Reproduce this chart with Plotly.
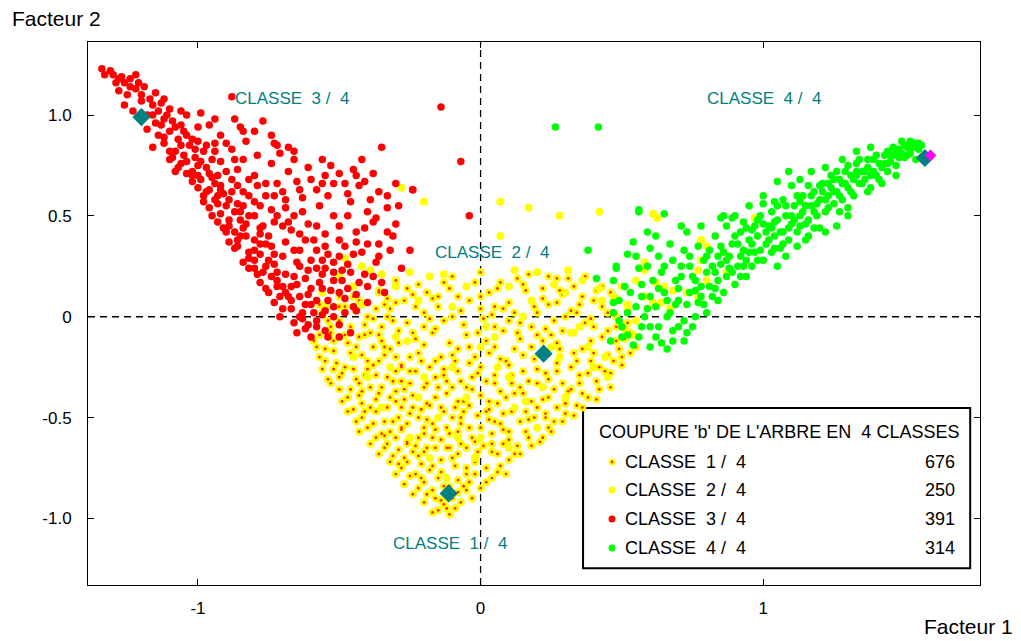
import plotly.graph_objects as go

# ---------------- data ----------------
class3_pts = [  # CLASSE 3 / 4 (red)
    (-1.34,1.23),(-1.31,1.22),(-1.27,1.19),(-1.24,1.18),(-1.22,1.2),(-1.26,1.16),
    (-1.28,1.12),(-1.22,1.13),(-1.19,1.14),(-1.15,1.11),(-1.12,1.08),(-0.88,1.09),
    (-1.26,1.05),(-1.23,1.02),(-1.16,1.05),(-1.1,1.03),(-1.06,1.02),(-1.04,1.0),(-0.99,1.01),(-0.77,0.97),
    (-1.18,0.93),(-1.13,0.95),(-1.09,0.97),(-1.05,0.92),(-1.0,0.94),(-0.96,0.95),(-0.92,0.9),(-0.85,0.94),(-0.8,0.92),
    (-1.16,0.84),(-1.12,0.86),(-1.08,0.82),(-1.03,0.85),(-0.98,0.82),(-0.94,0.86),(-0.88,0.83),(-0.83,0.87),(-0.79,0.8),(-0.72,0.85),(-0.66,0.82),(-0.35,0.84),
    (-1.1,0.78),(-1.07,0.74),(-1.04,0.77),(-1.02,0.72),(-1.0,0.75),(-0.96,0.71),(-0.92,0.77),(-0.86,0.73),(-0.8,0.7),(-0.74,0.76),(-0.68,0.72),(-0.61,0.74),(-0.55,0.7),(-0.45,0.73),(-0.38,0.71),(-0.07,0.77),
    (-1.02,0.67),(-1.0,0.64),(-0.99,0.68),(-0.97,0.62),(-0.94,0.66),(-0.91,0.61),(-0.86,0.65),(-0.82,0.6),(-0.76,0.66),(-0.7,0.62),(-0.65,0.67),(-0.58,0.63),(-0.52,0.66),(-0.47,0.61),(-0.43,0.65),(-0.36,0.62),(-0.3,0.66),(-0.24,0.63),
    (-0.98,0.57),(-0.96,0.54),(-0.94,0.58),(-0.92,0.51),(-0.9,0.55),(-0.85,0.52),(-0.8,0.57),(-0.74,0.53),(-0.69,0.58),(-0.63,0.52),(-0.57,0.55),(-0.52,0.5),(-0.46,0.57),(-0.4,0.52),(-0.33,0.54),(-0.04,0.5),
    (-0.93,0.47),(-0.91,0.44),(-0.89,0.48),(-0.87,0.42),(-0.83,0.46),(-0.78,0.41),(-0.73,0.47),(-0.67,0.43),(-0.61,0.46),(-0.55,0.41),(-0.5,0.45),(-0.44,0.42),(-0.38,0.47),(-0.31,0.4),
    (-0.89,0.37),(-0.87,0.34),(-0.86,0.38),(-0.82,0.32),(-0.78,0.36),(-0.73,0.31),(-0.69,0.37),(-0.64,0.33),(-0.59,0.38),(-0.54,0.31),(-0.48,0.35),(-0.42,0.32),(-0.36,0.36),(-0.25,0.33),
    (-0.84,0.27),(-0.82,0.24),(-0.8,0.28),(-0.77,0.22),(-0.73,0.26),(-0.69,0.21),(-0.65,0.27),(-0.61,0.23),(-0.56,0.28),(-0.52,0.22),(-0.47,0.26),(-0.41,0.21),(-0.37,0.27),(-0.28,0.24),
    (-0.78,0.17),(-0.76,0.14),(-0.72,0.18),(-0.69,0.12),(-0.65,0.16),(-0.61,0.11),(-0.57,0.17),(-0.53,0.13),(-0.49,0.18),(-0.44,0.11),(-0.4,0.15),(-0.34,0.12),
    (-0.73,0.07),(-0.7,0.04),(-0.67,0.08),(-0.63,0.02),(-0.6,0.06),(-0.56,0.01),(-0.52,0.05),(-0.48,0.09),(-0.44,0.03),(-0.4,0.07),
    (-0.66,-0.03),(-0.62,-0.06),(-0.58,-0.02),(-0.55,-0.07),(-0.5,-0.04),(-0.46,-0.08),(-0.6,-0.1),
    (-0.14,1.04),(-0.24,0.63),
    (-1.25,1.1),(-1.18,1.0),(-1.14,0.9),(-1.1,0.82),(-1.06,0.76),(-1.02,0.7),(-0.98,0.6),(-0.93,0.56),(-0.89,0.45),
    (-0.85,0.4),(-0.8,0.33),(-0.76,0.25),(-0.72,0.15),(-0.68,0.1),(-0.64,0.0),(-1.02,0.88),(-0.95,0.78),(-0.88,0.68),
    (-0.8,0.5),(-0.75,0.4),(-0.7,0.3),(-0.62,0.19),(-0.58,0.08),
    (-1.3,1.2),(-1.29,1.16),(-1.21,1.16),(-1.17,1.08),(-1.2,1.07),(-1.14,1.02),(-1.12,0.98),(-1.15,0.96),(-1.1,0.92),
    (-1.07,0.88),(-1.12,0.89),(-1.05,0.8),(-1.09,0.79),(-1.01,0.79),(-1.0,0.7),(-1.04,0.71),(-0.95,0.69),(-0.96,0.63),
    (-0.93,0.6),(-0.89,0.58),(-0.95,0.5),(-0.87,0.52),(-0.9,0.42),(-0.84,0.44),(-0.86,0.35),(-0.8,0.38),(-0.82,0.29),
    (-0.78,0.31),(-0.79,0.21),(-0.74,0.2),(-0.75,0.12),(-0.7,0.15),(-0.71,0.0),(-0.67,0.04),(-0.65,-0.08),(-0.63,-0.01),
    (-0.58,-0.05),(-0.56,0.14),(-0.6,0.28),(-0.66,0.33),(-0.7,0.45),(-0.78,0.55),(-0.84,0.62),(-0.9,0.72),(-0.97,0.85),
    (-1.06,0.95),(-1.13,1.06),(-0.94,0.98),(-0.87,0.98),(-0.9,0.86),(-0.74,0.9),(-0.84,0.78),(-0.72,0.66),(-0.63,0.59),
    (-0.62,0.38),(-0.55,0.35),(-0.5,0.3),(-0.46,0.22),(-0.52,0.18),(-0.47,0.14),(-0.45,0.05),(-0.52,0.0),(-0.54,-0.1),
    (-0.5,-0.1),(-0.58,0.24),(-0.64,0.25),(-0.67,0.15),(-0.6,0.14),(-0.56,0.21),(-0.74,0.35),(-0.77,0.45),(-0.66,0.5),
    (-0.58,0.45),(-0.5,0.38),(-0.44,0.37),(-0.41,0.44),(-0.47,0.5),(-0.54,0.6),(-0.6,0.68),(-0.5,0.71),(-0.66,0.78),
    (-0.56,0.78),(-0.42,0.78),(-0.39,0.58),(-0.33,0.6),(-0.3,0.46),(-0.32,0.33),(-0.29,0.55),(-0.44,0.7),(-1.0,0.87),
    (-1.08,0.72),(-0.92,0.65),(-0.84,0.55),(-0.69,0.54),(-0.73,0.6),(-0.79,0.65),(-0.71,0.81),(-0.68,0.84),(-0.73,0.86),
    (-1.33,1.2),(-1.28,1.18),(-1.24,1.14),(-1.2,1.1),(-1.16,1.0),(-1.11,1.0),(-1.08,0.94),(-1.04,0.9),(-1.06,0.85),
    (-1.01,0.83),(-0.99,0.77),(-0.97,0.74),(-0.93,0.7),(-0.92,0.63),(-0.88,0.62),(-0.86,0.56),(-0.85,0.48),(-0.82,0.5),
    (-0.83,0.4),(-0.78,0.44),(-0.76,0.36),(-0.8,0.24),(-0.75,0.28),(-0.72,0.22),(-0.71,0.1),(-0.66,0.2),(-0.64,0.1),
    (-0.62,0.06),(-0.59,0.02),(-0.61,-0.04),(-0.55,0.03),(-0.54,0.08),(-0.5,0.12),(-0.48,0.02),(-0.55,0.24),(-0.52,0.27),
    (-0.49,0.23),(-0.58,0.33),(-0.64,0.41),(-0.68,0.47),(-0.72,0.5),(-0.76,0.6),(-0.82,0.68),(-0.87,0.78),(-0.94,0.82),
    (-0.84,0.92),(-0.64,0.63),(-0.56,0.66),(-0.48,0.66),(-0.53,0.75),(-0.41,0.67),(-0.37,0.49),(-0.33,0.42),(-0.36,0.3),
    (-0.4,0.36),(-0.45,0.31),(-0.43,0.17),(-0.38,0.2),(-0.35,0.17),
]

class1_pts = [  # CLASSE 1 / 4 (yellow, red centre)
    (-0.36,0.12),(-0.3,0.18),(-0.22,0.16),(-0.1,0.2),(0.0,0.22),(0.07,0.17),(0.17,0.21),(0.27,0.19),(0.37,0.2),(0.43,0.15),
    (-0.5,0.1),(-0.43,0.08),(-0.36,0.13),(-0.3,0.07),(-0.24,0.11),(-0.17,0.09),(-0.11,0.14),(-0.04,0.08),(0.03,0.12),(0.1,0.07),(0.16,0.13),(0.22,0.09),(0.29,0.11),(0.35,0.06),(0.41,0.13),(0.48,0.09),
    (-0.56,0.02),(-0.5,-0.02),(-0.44,0.03),(-0.38,-0.01),(-0.32,0.04),(-0.26,-0.03),(-0.2,0.02),(-0.13,-0.02),(-0.07,0.03),(0.01,-0.01),(0.08,0.04),(0.14,-0.03),(0.2,0.02),(0.26,-0.02),(0.32,0.03),(0.39,-0.01),(0.45,0.02),(0.52,-0.03),
    (-0.59,-0.12),(-0.53,-0.08),(-0.47,-0.13),(-0.41,-0.09),(-0.35,-0.12),(-0.29,-0.07),(-0.23,-0.11),(-0.17,-0.08),(-0.11,-0.13),(-0.05,-0.09),(0.02,-0.12),(0.08,-0.07),(0.14,-0.11),(0.2,-0.09),(0.27,-0.13),(0.33,-0.08),(0.39,-0.12),(0.45,-0.07),(0.51,-0.11),(0.55,-0.15),
    (-0.57,-0.2),(-0.51,-0.23),(-0.46,-0.18),(-0.4,-0.22),(-0.34,-0.19),(-0.28,-0.24),(-0.22,-0.18),(-0.16,-0.22),(-0.1,-0.19),(-0.04,-0.23),(0.03,-0.18),(0.09,-0.22),(0.15,-0.19),(0.27,-0.23),(0.33,-0.18),(0.39,-0.22),(0.45,-0.19),(0.5,-0.24),
    (-0.54,-0.31),(-0.49,-0.28),(-0.43,-0.33),(-0.37,-0.29),(-0.31,-0.32),(-0.25,-0.27),(-0.19,-0.33),(-0.13,-0.29),(-0.07,-0.32),(-0.01,-0.28),(0.05,-0.33),(0.11,-0.29),(0.17,-0.32),(0.23,-0.28),(0.29,-0.33),(0.35,-0.29),(0.41,-0.32),(0.46,-0.28),
    (-0.47,-0.4),(-0.42,-0.43),(-0.36,-0.38),(-0.3,-0.42),(-0.24,-0.39),(-0.18,-0.44),(-0.12,-0.38),(-0.06,-0.42),(0.0,-0.39),(0.06,-0.43),(0.12,-0.38),(0.18,-0.42),(0.24,-0.4),(0.3,-0.43),(0.36,-0.38),(0.41,-0.41),
    (-0.42,-0.5),(-0.37,-0.47),(-0.31,-0.52),(-0.25,-0.48),(-0.19,-0.51),(-0.13,-0.47),(-0.07,-0.53),(-0.01,-0.49),(0.05,-0.52),(0.11,-0.47),(0.17,-0.51),(0.23,-0.48),(0.29,-0.52),(0.33,-0.49),
    (-0.37,-0.6),(-0.32,-0.57),(-0.26,-0.62),(-0.2,-0.58),(-0.14,-0.61),(-0.08,-0.57),(-0.02,-0.62),(0.04,-0.58),(0.1,-0.61),(0.16,-0.57),(0.22,-0.6),
    (-0.31,-0.69),(-0.26,-0.72),(-0.2,-0.67),(-0.14,-0.71),(-0.08,-0.68),(-0.02,-0.72),(0.04,-0.67),(0.1,-0.71),(0.14,-0.68),
    (-0.25,-0.79),(-0.2,-0.82),(-0.14,-0.77),(-0.08,-0.81),(-0.02,-0.78),(0.04,-0.8),
    (-0.19,-0.88),(-0.14,-0.91),(-0.08,-0.87),(-0.03,-0.9),
    (-0.15,-0.96),(-0.11,-0.98),(-0.13,-0.93),
    (-0.55,-0.16),(-0.44,-0.15),(-0.32,-0.16),(-0.2,-0.14),(-0.08,-0.16),(0.05,-0.15),(0.18,-0.15),(0.36,-0.16),
    (-0.52,-0.26),(-0.4,-0.26),(-0.28,-0.25),(-0.13,-0.26),(0.0,-0.25),(0.2,-0.26),(0.42,-0.25),
    (-0.5,-0.36),(-0.39,-0.35),(-0.27,-0.36),(-0.15,-0.35),(-0.03,-0.36),(0.14,-0.35),(0.32,-0.36),
    (-0.45,-0.46),(-0.33,-0.45),(-0.21,-0.46),(-0.09,-0.45),(0.03,-0.46),(0.2,-0.45),(0.34,-0.44),
    (-0.4,-0.55),(-0.28,-0.55),(-0.16,-0.56),(-0.04,-0.55),(0.08,-0.56),(0.24,-0.55),
    (-0.34,-0.65),(-0.23,-0.64),(-0.11,-0.65),(0.01,-0.64),(0.13,-0.64),
    (-0.28,-0.75),(-0.17,-0.74),(-0.05,-0.75),(0.07,-0.74),
    (-0.22,-0.85),(-0.11,-0.84),(0.0,-0.85),
    (-0.48,0.05),(-0.34,0.06),(-0.15,0.05),(0.05,0.05),(0.24,0.06),(0.43,0.05),
    (-0.53,-0.05),(-0.35,-0.05),(-0.16,-0.06),(0.05,-0.05),(0.23,-0.06),(0.48,-0.05),
    (-0.57,-0.09),(-0.52,-0.17),(-0.48,-0.25),(-0.44,-0.31),(-0.46,-0.36),(-0.41,-0.47),(-0.38,-0.53),(-0.35,-0.58),
    (-0.33,-0.63),(-0.29,-0.66),(-0.27,-0.7),(-0.23,-0.78),(-0.21,-0.8),(-0.17,-0.86),(-0.16,-0.9),(-0.12,-0.95),
    (-0.1,-0.9),(-0.06,-0.84),(-0.05,-0.78),(0.02,-0.75),(-0.36,-0.22),(-0.33,-0.3),(-0.3,-0.37),(-0.28,-0.45),
    (-0.26,-0.53),(-0.22,-0.6),(-0.19,-0.65),(-0.17,-0.6),(-0.12,-0.55),(-0.1,-0.5),(-0.16,-0.4),(-0.2,-0.35),
    (-0.23,-0.27),(-0.25,-0.2),(-0.14,-0.2),(-0.08,-0.27),(-0.05,-0.35),(0.03,-0.42),(0.08,-0.48),(0.07,-0.37),
    (0.1,-0.24),(0.12,-0.16),(0.14,-0.52),(0.18,-0.64),(0.06,-0.68),(-0.05,-0.65),(0.0,-0.55),(0.2,-0.33),
    (0.26,-0.36),(0.27,-0.45),(0.32,-0.25),(0.38,-0.28),(0.42,-0.36),(0.47,-0.22),(0.49,-0.16),(0.53,-0.08),
    (0.4,-0.05),(0.36,0.1),(0.3,0.0),(0.22,0.14),(0.12,0.02),(0.0,0.1),(-0.06,-0.04),(-0.1,0.0),(-0.19,0.12),
    (-0.27,0.08),(-0.4,0.0),(-0.46,-0.05),(-0.5,-0.3),(-0.55,-0.22),(-0.42,-0.37),(-0.37,-0.41),(-0.34,-0.52),
    (-0.3,-0.6),(-0.24,-0.67),(-0.21,-0.73),(-0.15,-0.8),(-0.09,-0.74),(-0.12,-0.65),(-0.06,-0.47),(-0.02,-0.2),
    (0.05,-0.29),(0.1,-0.57),(0.16,-0.47),(0.23,-0.5),(0.25,-0.57),(0.18,-0.05),(0.27,0.07),(0.33,0.15),(-0.33,0.0),
    (-0.43,-0.1),(-0.2,-0.05),(0.1,-0.02),(-0.38,-0.15),(-0.3,-0.2),(-0.18,-0.25),(-0.28,-0.32),(-0.1,-0.35),
    (-0.22,-0.5),(-0.28,-0.56),(-0.16,-0.65),(-0.1,-0.7),(-0.03,-0.6),(0.08,-0.63),(0.03,-0.51),(-0.08,-0.42),
    (0.15,-0.27),(0.25,-0.09),(0.43,-0.1),(0.38,-0.4),(0.3,-0.48),(0.35,-0.33),(0.46,-0.35),
    (-0.58,-0.15),(-0.56,-0.26),(-0.53,-0.33),(-0.49,-0.42),(-0.47,-0.47),(-0.44,-0.52),(-0.43,-0.57),(-0.39,-0.63),
    (-0.36,-0.68),(-0.32,-0.72),(-0.3,-0.78),(-0.27,-0.83),(-0.24,-0.88),(-0.2,-0.92),(-0.17,-0.97),(-0.09,-0.95),
    (-0.05,-0.86),(0.02,-0.82),(0.06,-0.77),(0.09,-0.78),(-0.45,-0.26),(-0.42,-0.19),(-0.39,-0.08),(-0.35,-0.35),
    (-0.32,-0.4),(-0.29,-0.5),(-0.27,-0.41),(-0.25,-0.33),(-0.21,-0.22),(-0.19,-0.43),(-0.17,-0.53),(-0.14,-0.45),
    (-0.11,-0.58),(-0.07,-0.5),(-0.04,-0.44),(-0.03,-0.3),(-0.01,-0.08),(0.02,-0.32),(0.04,-0.63),(0.07,-0.53),
    (0.09,-0.4),(0.11,-0.33),(0.13,-0.08),(0.15,-0.38),(0.19,-0.21),(0.21,-0.62),(0.22,-0.12),(0.24,-0.31),
    (0.26,-0.52),(0.28,-0.16),(0.31,-0.37),(0.34,-0.22),(0.36,-0.45),(0.37,-0.03),(0.4,-0.18),(0.44,-0.27),
    (0.48,-0.12),(0.5,-0.2),(0.53,-0.18),(0.52,0.03),(0.46,0.12),(0.4,0.08),(0.34,0.02),(0.28,0.13),(0.24,0.2),
    (0.19,0.05),(0.13,0.19),(0.06,0.14),(0.04,0.01),(-0.02,0.17),(-0.04,-0.15),(-0.08,0.1),(-0.13,0.17),(-0.15,0.1),
    (-0.18,-0.01),(-0.23,0.05),(-0.26,0.14),(-0.29,-0.13),(-0.33,0.09),(-0.37,0.04),(-0.41,-0.04),(-0.45,0.1),
    (-0.5,0.05),(-0.54,-0.02),(-0.57,0.06),(-0.48,-0.09),(-0.52,-0.12),(-0.41,-0.29),(-0.38,-0.24),(-0.34,-0.15),
    (-0.3,-0.27),(-0.24,-0.45),(-0.2,-0.55),(-0.18,-0.76),(-0.13,-0.84),(-0.07,-0.92),(-0.04,-0.82),(-0.07,-0.63),
    (-0.01,-0.67),(0.02,-0.47),(0.07,-0.21),(0.12,-0.68),(0.17,-0.6),(0.19,-0.5),(0.22,-0.41),(0.27,-0.27),
    (0.29,-0.07),(0.31,0.19),(0.15,0.16),(0.0,0.04),(-0.09,-0.22),(-0.12,-0.32),(-0.16,-0.3),(-0.26,-0.63),
    (-0.29,-0.73),(-0.22,-0.69),(-0.34,-0.59),(-0.39,-0.45),(-0.43,-0.39),(-0.36,-0.09),(-0.31,-0.02),(-0.24,-0.08),
]

class2_pts = [  # CLASSE 2 / 4 (yellow)
    (-0.28,0.64),(-0.2,0.57),(0.07,0.57),(0.17,0.54),(0.28,0.5),(0.07,0.4),(-0.48,0.29),(-0.39,0.23),
    (-0.25,0.22),(-0.18,0.2),(-0.13,0.21),(0.12,0.23),(0.2,0.22),(0.31,0.23),(0.42,0.14),(-0.35,0.21),
    (0.61,0.51),(0.625,0.49),(0.97,0.49),(0.78,0.38),(0.8,0.35),(0.78,0.28),(0.58,0.27),(0.58,0.23),
    (0.55,0.18),(0.62,0.17),(0.65,0.15),(0.68,0.13),(0.77,0.23),(0.8,0.18),(0.73,0.12),(0.77,0.1),
    (0.47,0.1),(0.43,0.08),(0.61,0.07),(0.64,0.07),(0.67,0.04),(0.52,0.06),(0.48,0.0),(0.51,-0.06),
    (0.54,-0.09),(0.87,0.22),(0.42,0.52),
    (-0.45,-0.2),(-0.3,-0.1),(-0.2,-0.3),(-0.35,-0.45),(0.1,-0.3),(0.0,-0.6),(-0.05,-0.4),(0.25,-0.15),
    (0.15,0.0),(-0.1,0.05),(-0.25,-0.6),(0.3,-0.4),(0.4,-0.25),(0.2,-0.55),(-0.4,-0.3),(0.05,-0.1),
    (-0.15,-0.5),(-0.02,-0.7),(0.35,-0.05),(0.45,-0.3),(-0.5,-0.1),(-0.55,0.05),(-0.45,0.15),(0.3,0.12),
    (0.1,0.15),(-0.3,0.15),(-0.05,0.15),(0.1,-0.65),(-0.1,-0.25),(0.0,-0.15),(0.32,-0.08),(0.28,-0.2),
    (0.22,-0.35),(0.38,-0.15),(0.12,-0.45),(-0.22,-0.4),(-0.32,-0.25),(-0.08,-0.6),(-0.18,-0.7),(0.06,-0.25),
    (0.18,0.08),(-0.22,0.08),(0.26,0.16),(-0.42,0.06),(0.5,0.15),(0.36,0.18),(-0.12,-0.8),(0.02,-0.05),
    (-0.56,0.12),(-0.5,0.2),(-0.42,0.25),(0.55,-0.02),(0.58,0.1),(0.44,-0.2),(0.16,-0.42),(-0.26,-0.12),
]

class4_pts = [  # CLASSE 4 / 4 (green)
    (0.46,-0.12),(0.5,-0.05),(0.52,0.02),(0.49,0.08),(0.54,-0.14),(0.53,0.12),(0.47,0.18),
    (0.56,-0.1),(0.58,0.0),(0.6,-0.05),(0.57,0.1),(0.62,0.05),(0.64,-0.13),(0.61,0.18),(0.59,0.25),(0.63,0.3),(0.6,0.34),(0.56,0.24),(0.65,0.12),
    (0.66,-0.16),(0.68,-0.07),(0.67,0.02),(0.7,0.08),(0.69,0.18),(0.72,-0.02),(0.74,0.12),(0.71,0.25),(0.73,0.06),(0.75,0.2),(0.68,0.28),(0.72,-0.12),(0.76,0.0),
    (0.77,0.07),(0.78,0.15),(0.8,0.22),(0.82,0.1),(0.79,0.28),(0.84,0.18),(0.81,0.33),(0.83,0.4),(0.85,0.26),(0.8,0.02),(0.84,0.08),(0.78,0.45),
    (0.86,0.12),(0.87,0.2),(0.88,0.3),(0.9,0.16),(0.89,0.36),(0.91,0.25),(0.92,0.42),(0.93,0.33),(0.94,0.2),(0.95,0.38),(0.87,0.45),(0.9,0.5),(0.94,0.28),
    (0.96,0.25),(0.97,0.32),(0.98,0.4),(1.0,0.28),(1.01,0.36),(1.02,0.45),(1.03,0.32),(1.04,0.4),(0.99,0.5),(1.05,0.55),(1.0,0.6),(0.97,0.45),(1.05,0.25),(1.03,0.52),
    (1.06,0.34),(1.07,0.42),(1.08,0.5),(1.09,0.38),(1.1,0.46),(1.11,0.55),(1.12,0.42),(1.13,0.5),(1.14,0.6),(1.1,0.65),(1.07,0.58),(1.15,0.38),(1.09,0.72),
    (1.16,0.48),(1.17,0.55),(1.18,0.62),(1.19,0.5),(1.2,0.58),(1.21,0.66),(1.22,0.52),(1.23,0.6),(1.24,0.7),(1.2,0.44),(1.17,0.72),(1.25,0.56),(1.16,0.65),
    (1.26,0.62),(1.27,0.68),(1.28,0.58),(1.29,0.72),(1.3,0.64),(1.31,0.7),(1.32,0.6),(1.33,0.76),(1.34,0.66),(1.35,0.72),(1.28,0.78),(1.3,0.54),
    (1.36,0.68),(1.37,0.74),(1.38,0.64),(1.39,0.78),(1.4,0.7),(1.41,0.76),(1.42,0.66),(1.43,0.8),(1.44,0.72),(1.45,0.77),(1.38,0.84),
    (1.46,0.8),(1.47,0.75),(1.48,0.83),(1.5,0.79),(1.51,0.84),(1.52,0.81),(1.53,0.86),(1.55,0.83),(1.54,0.78),(1.49,0.87),(1.56,0.85),
    (0.265,0.94),(0.417,0.94),(0.56,0.53),(0.38,0.33),(0.48,0.24),(0.41,0.19),(0.47,0.07),(0.47,0.02),
    (0.5,-0.1),(0.55,0.05),(0.6,0.1),(0.63,-0.05),(0.66,0.08),(0.7,-0.05),(0.7,0.14),(0.74,0.25),(0.76,0.13),
    (0.79,0.06),(0.82,0.25),(0.83,0.14),(0.86,0.32),(0.88,0.24),(0.91,0.36),(0.92,0.2),(0.95,0.32),(0.96,0.43),
    (0.98,0.28),(1.0,0.46),(1.02,0.38),(1.04,0.47),(1.06,0.42),(1.08,0.55),(1.1,0.5),(1.12,0.6),(1.13,0.45),
    (1.15,0.55),(1.17,0.6),(1.18,0.52),(1.2,0.65),(1.22,0.58),(1.23,0.66),(1.25,0.62),(1.26,0.72),(1.28,0.66),
    (1.3,0.75),(1.32,0.68),(1.34,0.78),(1.36,0.72),(1.38,0.7),(1.4,0.8),(1.42,0.74),(1.44,0.82),(1.46,0.84),
    (1.48,0.79),(1.5,0.85),(1.52,0.87),(1.54,0.86),(1.44,0.76),(1.33,0.72),(1.24,0.64),(1.14,0.52),(1.04,0.34),
    (0.93,0.25),(0.84,0.3),(0.77,0.35),(0.72,0.33),(0.64,0.22),(0.57,0.16),(0.52,-0.09),(0.6,-0.15),(0.68,-0.12),
    (0.75,-0.05),(0.62,0.4),(0.67,0.36),(0.73,0.42),(0.86,0.5),(0.95,0.55),(1.13,0.68),(1.22,0.74),(1.33,0.82),
    (1.08,0.3),(1.18,0.44),(1.27,0.52),(1.37,0.62),(1.47,0.7),(1.22,0.42),(1.26,0.45),(1.3,0.5),(1.12,0.35),
    (1.16,0.4),(1.05,0.67),(1.0,0.56),(1.04,0.57),(0.85,0.49),(0.89,0.49),(0.93,0.47),(0.56,0.52),(0.65,0.51),
    (0.71,0.45),(0.59,0.42),(0.54,0.37),(0.52,0.31),(0.48,0.25),
    (0.49,-0.02),(0.51,0.15),(0.55,0.3),(0.57,-0.05),(0.59,0.04),(0.62,-0.1),(0.63,0.14),(0.65,0.25),(0.66,0.0),
    (0.69,0.06),(0.71,0.2),(0.73,-0.08),(0.74,0.3),(0.76,0.18),(0.78,0.1),(0.8,0.3),(0.81,0.15),(0.83,0.22),
    (0.85,0.35),(0.87,0.28),(0.89,0.22),(0.9,0.4),(0.92,0.3),(0.94,0.44),(0.96,0.36),(0.98,0.48),(0.99,0.33),
    (1.01,0.42),(1.03,0.44),(1.05,0.48),(1.07,0.36),(1.09,0.44),(1.11,0.48),(1.13,0.57),(1.15,0.46),(1.19,0.56),
    (1.21,0.62),(1.23,0.54),(1.25,0.68),(1.27,0.6),(1.29,0.66),(1.31,0.62),(1.33,0.7),(1.35,0.66),(1.37,0.78),
    (1.39,0.72),(1.41,0.68),(1.43,0.76),(1.45,0.8),(1.47,0.82),(1.49,0.81),(1.51,0.8),(1.53,0.84),(1.55,0.86),
]

centroid_x = [-0.113, 0.223, -1.2, 1.572]
centroid_y = [-0.876, -0.183, 0.99, 0.787]
last_centroid_x = [1.592]
last_centroid_y = [0.80]

NB = "\u00a0"
class_names = [f"CLASSE{NB}{NB}{k} /{NB}{NB}4" for k in (1, 2, 3, 4)]
class_counts = [676, 250, 391, 314]
legend_title = f"COUPURE 'b' DE L'ARBRE EN{NB}{NB}4 CLASSES"

x_ticks = [-1, 0, 1]
x_ticktext = ["-1", "0", "1"]
y_ticks = [-1, -0.5, 0, 0.5, 1]
y_ticktext = ["-1.0", "-0.5", "0", "0.5", "1.0"]

# ---------------- figure ----------------
FONT = "Liberation Sans, Arial, sans-serif"
TEAL = "#008080"
YEL, RED, GRN, DOT = "#ffff00", "#ff0000", "#00ff00", "#ff2a00"

def xs(p): return [a for a, b in p]
def ys(p): return [b for a, b in p]

fig = go.Figure()
fig.add_trace(go.Scatter(x=xs(class1_pts), y=ys(class1_pts), mode="markers",
                         marker=dict(color=YEL, size=8), hoverinfo="skip"))
fig.add_trace(go.Scatter(x=xs(class1_pts), y=ys(class1_pts), mode="markers",
                         marker=dict(color=DOT, size=2.8), hoverinfo="skip"))
fig.add_trace(go.Scatter(x=xs(class2_pts), y=ys(class2_pts), mode="markers",
                         marker=dict(color=YEL, size=8), hoverinfo="skip"))
fig.add_trace(go.Scatter(x=xs(class4_pts), y=ys(class4_pts), mode="markers",
                         marker=dict(color=GRN, size=7.5), hoverinfo="skip"))
fig.add_trace(go.Scatter(x=xs(class3_pts), y=ys(class3_pts), mode="markers",
                         marker=dict(color=RED, size=7.5), hoverinfo="skip"))
fig.add_trace(go.Scatter(x=centroid_x, y=centroid_y, mode="markers",
                         marker=dict(color=TEAL, size=14, symbol="diamond"), hoverinfo="skip"))
fig.add_trace(go.Scatter(x=last_centroid_x, y=last_centroid_y, mode="markers",
                         marker=dict(color="#ff00ff", size=9, symbol="diamond"), hoverinfo="skip"))

# legend symbols, drawn on a hidden [0,1] overlay axis (legend box fractions)
row_y = [0.2265, 0.175, 0.1215, 0.068]
sym_x = [0.5875] * 4
fig.add_trace(go.Scatter(x=sym_x, y=row_y, xaxis="x2", yaxis="y2", mode="markers",
                         marker=dict(color=[YEL, YEL, RED, GRN], size=7), hoverinfo="skip"))
fig.add_trace(go.Scatter(x=sym_x[:1], y=row_y[:1], xaxis="x2", yaxis="y2", mode="markers",
                         marker=dict(color=DOT, size=2.8), hoverinfo="skip"))

# dashed origin lines
fig.add_shape(type="line", xref="x", yref="paper", x0=0, x1=0, y0=0, y1=1,
              line=dict(color="black", width=1.3, dash="7px,5px"), layer="below")
fig.add_shape(type="line", xref="paper", yref="y", x0=0, x1=1, y0=0, y1=0,
              line=dict(color="black", width=1.3, dash="7px,5px"), layer="below")
# legend box
fig.add_shape(type="rect", xref="paper", yref="paper", x0=0.555, x1=0.989, y0=0.031, y1=0.326,
              line=dict(color="black", width=2), fillcolor="white", layer="below")

ann = []
label_pos = [(-0.318, -1.122), (-0.17, 0.316), (-0.876, 1.084), (0.795, 1.08)]
for k, (lx, ly) in zip((1, 2, 3, 4), label_pos):
    ann.append(dict(x=lx, y=ly, xref="x", yref="y", text=f"CLASSE{NB}{NB}{k} /{NB}{NB}4",
                    showarrow=False, xanchor="left", yanchor="middle",
                    font=dict(family=FONT, size=17, color=TEAL)))

ann.append(dict(x=0.571, y=0.282, xref="paper", yref="paper", text=legend_title, showarrow=False,
                xanchor="left", yanchor="middle", font=dict(family=FONT, size=18, color="black")))
for i in range(4):
    ann.append(dict(x=0.600, y=row_y[i], xref="paper", yref="paper", text=class_names[i], showarrow=False,
                    xanchor="left", yanchor="middle", font=dict(family=FONT, size=18, color="black")))
    ann.append(dict(x=0.974, y=row_y[i], xref="paper", yref="paper", text=str(class_counts[i]), showarrow=False,
                    xanchor="right", yanchor="middle", font=dict(family=FONT, size=18, color="black")))

ann.append(dict(x=-0.088, y=1.044, xref="paper", yref="paper", text="Facteur 2", showarrow=False,
                xanchor="left", yanchor="middle", font=dict(family=FONT, size=21, color="black")))
ann.append(dict(x=1.039, y=-0.077, xref="paper", yref="paper", text="Facteur 1", showarrow=False,
                xanchor="right", yanchor="middle", font=dict(family=FONT, size=21, color="black")))

# page body has an 8px margin: figure margins are shifted to compensate
fig.update_layout(
    width=1021, height=641,
    margin=dict(l=80, r=49, t=34, b=64),
    paper_bgcolor="white", plot_bgcolor="white",
    showlegend=False,
    annotations=ann,
    font=dict(family=FONT, size=17, color="black"),
    xaxis2=dict(overlaying="x", range=[0, 1], visible=False, fixedrange=True),
    yaxis2=dict(overlaying="y", range=[0, 1], visible=False, fixedrange=True),
)
fig.update_xaxes(selector=dict(anchor="y"), range=[-1.389, 1.767], tickvals=x_ticks, ticktext=x_ticktext,
                 showgrid=False, zeroline=False, showline=True, linecolor="black", linewidth=1,
                 mirror="allticks", ticks="inside", ticklen=6, tickcolor="black",
                 ticklabelstandoff=8, tickfont=dict(family=FONT, size=17))
fig.update_layout(yaxis=dict(range=[-1.330, 1.362], tickvals=y_ticks, ticktext=y_ticktext,
                 showgrid=False, zeroline=False, showline=True, linecolor="black", linewidth=1,
                 mirror="allticks", ticks="inside", ticklen=6, tickcolor="black",
                 ticklabelstandoff=12, tickfont=dict(family=FONT, size=17)))
fig.update_layout(xaxis=dict(range=[-1.389, 1.767], tickvals=x_ticks, ticktext=x_ticktext,
                 showgrid=False, zeroline=False, showline=True, linecolor="black", linewidth=1,
                 mirror="allticks", ticks="inside", ticklen=6, tickcolor="black",
                 ticklabelstandoff=8, tickfont=dict(family=FONT, size=17)))

fig.write_html("out.html")
